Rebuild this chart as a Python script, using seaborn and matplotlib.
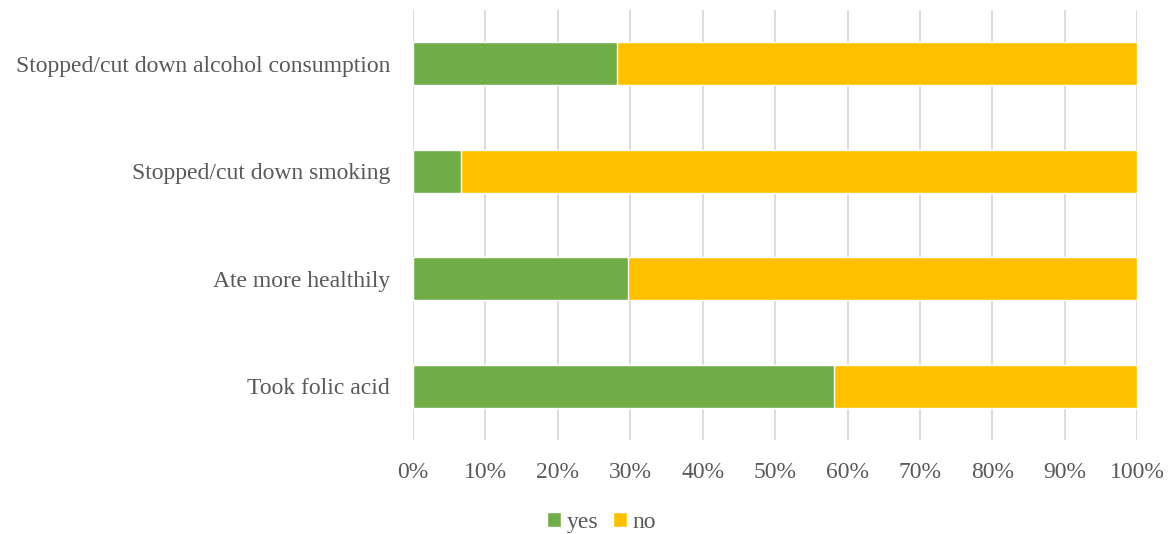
import matplotlib
matplotlib.use("Agg")
import matplotlib.pyplot as plt
import seaborn as sns
import pandas as pd
from matplotlib.patches import Patch
from matplotlib.ticker import PercentFormatter

categories = [
    "Stopped/cut down alcohol consumption",
    "Stopped/cut down smoking",
    "Ate more healthily",
    "Took folic acid",
]
yes_pct = [28.2, 6.6, 29.7, 58.1]
no_pct = [71.8, 93.4, 70.3, 41.9]
x_ticks = list(range(0, 101, 10))

GREEN = "#70ad47"
YELLOW = "#ffc000"
TEXT = "#595959"
GRID = "#d9d9d9"

sns.set_theme(style="white")
plt.rcParams["font.family"] = ["Liberation Serif", "DejaVu Serif"]

df = pd.DataFrame({"category": categories, "yes": yes_pct, "no": no_pct})
df["total"] = df["yes"] + df["no"]

fig = plt.figure(figsize=(11.7, 5.34), dpi=100)
ax = fig.add_axes([0.353, 0.176, 0.619, 0.805])

# stacked bars: full width in yellow, the "yes" share drawn on top in green
sns.barplot(data=df, y="category", x="total", color=YELLOW, width=0.4,
            saturation=1, ax=ax, zorder=2)
sns.barplot(data=df, y="category", x="yes", color=GREEN, width=0.4,
            saturation=1, ax=ax, zorder=3)

ax.set_xlim(0, 100)
ax.set_ylim(3.5, -0.5)
ax.set_xticks(x_ticks)
ax.xaxis.set_major_formatter(PercentFormatter(decimals=0))
ax.grid(axis="x", color=GRID, linewidth=1.3, zorder=0)
ax.set_axisbelow(True)
ax.set_xlabel("")
ax.set_ylabel("")
for s in ax.spines.values():
    s.set_visible(False)
ax.tick_params(axis="x", length=0, pad=16, labelsize=17, labelcolor=TEXT)
ax.tick_params(axis="y", length=0, pad=16.5, labelsize=17, labelcolor=TEXT)

handles = [Patch(facecolor=GREEN, label="yes"), Patch(facecolor=YELLOW, label="no")]
fig.legend(handles=handles, loc="center", bbox_to_anchor=(0.514, 0.022),
           ncol=2, frameon=False, fontsize=17, labelcolor=TEXT,
           handlelength=0.6, handleheight=0.6, handletextpad=0.25,
           columnspacing=0.6)

fig.savefig("out.png", dpi=100)
